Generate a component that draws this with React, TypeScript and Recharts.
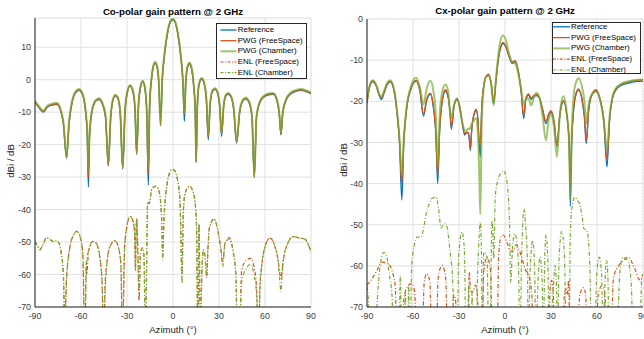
import React from 'react';
import { LineChart, Line, XAxis, YAxis, CartesianGrid } from 'recharts';

const BLUE = '#0072BD';
const RED = '#D95319';
const GREEN = '#77AC30';
const FONT = '"Liberation Sans", Arial, Helvetica, sans-serif';

// ---------- Co-polar: PWG / reference (shared azimuth) ----------
const coAz = [-90, -87.5, -84.6, -82, -78.5, -75.8, -73.5, -71.5, -69.4, -67.8, -66, -63.8, -61.3, -59, -57.2, -55.9, -55.2, -54.4, -52.5, -50.3, -48.2, -46.2, -44, -42.2, -40.6, -39.1, -37.6, -36, -34.4, -32.8, -31.3, -29.8, -28, -26.2, -24.8, -23.7, -22.5, -21.1, -19.8, -18.5, -17.1, -16.1, -15.2, -13.8, -12.5, -11.6, -10.6, -9.4, -8.1, -7.0, -5.5, -3.6, -1.6, -0.2, 1.3, 3.1, 5.0, 6.5, 7.4, 8.4, 9.6, 10.7, 12, 13.5, 14.5, 15.1, 15.8, 17.0, 18.7, 20.3, 21.8, 23.0, 24.3, 25.8, 27.4, 29.0, 30.5, 31.7, 33.0, 34.5, 36.0, 37.8, 39.6, 41.5, 43.5, 45.5, 47.4, 49.5, 51.5, 53.0, 54.5, 57.0, 60.0, 63.0, 65.4, 67.6, 69.3, 70.4, 71.6, 74.0, 77.0, 80.0, 83.8, 87.0, 90.0];
const coRef = [-7.0, -8.6, -10.0, -8.5, -7.8, -7.6, -9.2, -13.5, -24.2, -13.5, -7.5, -4.2, -3.3, -4.6, -9.0, -17, -33, -17, -9.0, -6.6, -6.1, -7.4, -11.5, -26.5, -11.5, -6.3, -5.0, -5.8, -10.5, -27.5, -10, -4.0, -2.0, -3.6, -9.0, -23.0, -8.0, -2.2, -0.7, -2.2, -10, -32.5, -8, 1.0, 4.5, 5.0, 4.3, 0, -12.0, 0, 7.8, 14.3, 17.8, 18.4, 17.7, 14.2, 7.5, -1.0, -12.8, -0.5, 4.0, 4.8, 3.6, -2.0, -9.5, -25.5, -9.5, -1.5, 0.1, -1.2, -6.5, -18.5, -7.2, -3.6, -3.0, -4.1, -8.5, -17.5, -8.5, -5.0, -4.5, -5.3, -9.2, -19.5, -10, -6.6, -5.9, -6.9, -11.5, -30, -11.5, -6.7, -5.1, -4.6, -4.5, -6.2, -10.5, -17.0, -10.2, -6.1, -4.3, -3.6, -3.3, -3.7, -4.3];
const coPwgFree = [-6.8, -8.4, -9.8, -8.3, -7.6, -7.4, -9.0, -13.3, -24.0, -13.3, -7.3, -4.0, -3.1, -4.4, -8.8, -17, -30, -17, -8.8, -6.4, -5.9, -7.2, -11.3, -26.5, -11.3, -6.1, -4.8, -5.6, -10.3, -27.2, -9.8, -3.8, -1.8, -3.4, -8.8, -22.8, -7.8, -2.0, -0.5, -2.0, -9.8, -29, -7.8, 1.2, 4.7, 5.2, 4.5, 0.2, -14.2, 0.2, 8.0, 14.5, 18.0, 18.6, 17.9, 14.4, 7.7, -0.8, -10.5, -0.3, 4.2, 5.0, 3.8, -1.8, -9.3, -25.3, -9.3, -1.3, 0.3, -1.0, -6.3, -17.5, -7.0, -3.4, -2.8, -3.9, -8.3, -16.8, -8.3, -4.8, -4.3, -5.1, -9.0, -19.3, -9.8, -6.4, -5.7, -6.7, -11.3, -30, -11.3, -6.5, -4.9, -4.4, -4.3, -6.0, -10.3, -16.8, -10.0, -5.9, -4.1, -3.4, -3.1, -3.5, -4.1];
const coPwgChamber = [-6.5, -8.1, -9.5, -8.0, -7.3, -7.1, -8.8, -13.0, -23.8, -13.0, -7.0, -3.8, -2.9, -4.2, -8.6, -16.5, -28, -16.5, -8.6, -6.2, -5.7, -7.0, -11.0, -26, -11.0, -5.9, -4.6, -5.4, -10.0, -27, -9.5, -3.6, -1.6, -3.2, -8.5, -22.5, -7.5, -1.8, -0.3, -1.8, -9.5, -27.5, -7.5, 1.4, 4.9, 5.5, 4.7, 0.4, -14.0, 0.4, 8.2, 14.7, 18.2, 18.8, 18.1, 14.6, 7.9, -0.6, -10.3, -0.1, 4.4, 5.3, 4.0, -1.6, -9.0, -25, -9.0, -1.1, 0.5, -0.8, -6.0, -17.0, -6.8, -3.2, -2.6, -3.7, -8.0, -16.4, -8.0, -4.6, -4.1, -4.9, -8.8, -19.0, -9.5, -6.2, -5.5, -6.5, -11.0, -30, -11.0, -6.3, -4.7, -4.2, -4.1, -5.8, -10.0, -16.5, -9.8, -5.7, -3.9, -3.2, -2.9, -3.3, -3.9];

// ---------- Co-polar: ENL (shared azimuth) ----------
const coEnlAz = [-90, -88, -86.7, -85, -82.4, -80, -78, -76, -74.5, -73, -71.5, -70.6, -69.5, -67.2, -65, -62.8, -60.5, -58.8, -57.6, -56.5, -56.3, -55.2, -54, -52.4, -50.2, -47.8, -46.3, -45.2, -44.3, -43, -41.1, -37.8, -35.5, -34, -32.9, -31.6, -30, -28, -26, -25, -24.5, -24, -23.6, -22.9, -22.1, -21.2, -19.8, -18.9, -18.1, -17.3, -16.5, -15.6, -13.9, -11.1, -8.9, -7.4, -6.7, -5.9, -3.7, -1.8, -0.2, 1.5, 2.8, 4.6, 5.9, 6.7, 8, 10.7, 13.3, 14.8, 15.4, 16.2, 17.0, 17.8, 18.8, 19.8, 20.9, 22.0, 22.8, 23.8, 26.7, 29.6, 31.2, 32.4, 33.9, 36.7, 39.4, 41, 42, 43.2, 44.8, 48, 50.7, 52.8, 54.5, 55.7, 56.8, 57.8, 60, 63.3, 66.5, 68.5, 69.5, 70.4, 71.3, 72, 74.6, 78.5, 82.8, 86.1, 88, 90];
const coEnlFree = [-49.8, -51.5, -52.4, -51, -48.8, -49.3, -49.8, -49.6, -50.2, -53, -60, -80, -62, -51.4, -48, -46.7, -48.5, -54, -80, -56, -60, -53.5, -51, -49.8, -50.3, -54.5, -62, -80, -63, -56, -51.4, -49.6, -51.8, -57, -80, -52, -45, -42.1, -43.6, -48, -58.6, -45, -42.8, -53.5, -68, -53.5, -51.8, -54.5, -80, -60, -37.6, -38.2, -33.8, -32.8, -34.8, -43, -54, -43, -31.7, -28.3, -27.6, -28.3, -30.5, -37.9, -60, -41, -34.8, -32.8, -34.8, -40, -46, -80, -44.5, -80, -60, -52.4, -54.5, -61, -52, -45.5, -42.9, -47.3, -52, -56, -50.4, -48.6, -53.5, -60, -80, -80, -58.6, -55.5, -55, -57.6, -64, -80, -63, -57.6, -51.4, -48.8, -51.4, -55.5, -59, -61.2, -58, -55.5, -50.7, -48.3, -48.8, -49.1, -50.5, -53];
const coEnlChamber = [-49.8, -51.5, -52.2, -51, -48.6, -49.3, -49.8, -49.6, -50.2, -53, -60, -72, -62, -51.4, -48, -46.6, -48.5, -54, -80, -58, -55, -53, -51, -49.8, -50.3, -54.5, -62, -80, -66, -56, -51.4, -49.6, -51.8, -57, -80, -52, -45, -42.1, -43.6, -48, -58.6, -45, -42.8, -53.5, -66, -53.5, -51.8, -54.5, -80, -60, -37.6, -38.2, -33.8, -32.8, -34.8, -43, -55.5, -43, -31.7, -28.3, -27.6, -28.3, -30.5, -37.9, -62.8, -41, -34.8, -32.8, -34.8, -40, -46, -80, -44.5, -80, -60, -52.4, -54.5, -59.7, -52, -45.5, -42.9, -47.3, -52, -57.6, -50.4, -49.1, -53.5, -60, -80, -80, -62, -58, -56.8, -60, -66, -80, -63, -57.6, -51.4, -48.8, -51.4, -55.5, -61, -65.3, -59, -55.5, -50.7, -48.3, -48.8, -49.1, -50.5, -53];

// ---------- Cx-polar: PWG / reference (shared azimuth) ----------
const cxAz = [-90, -88.5, -86.3, -84, -82, -80.7, -79, -77, -74.8, -72.5, -70.5, -68.8, -67.3, -66, -64.2, -61.3, -58, -55.5, -53.2, -51, -48.7, -46.7, -45.1, -43.9, -42.6, -41, -38.9, -37, -35.9, -35, -33.2, -31.3, -29.5, -27.6, -26.3, -25.1, -24.1, -23.2, -22.6, -21.7, -19.8, -18.7, -17.7, -16.9, -16.1, -15.2, -13.8, -12.2, -10.6, -9, -7.4, -6, -4.2, -2.8, -1.3, 0.5, 2.5, 4.6, 6.7, 8.5, 10.5, 12.2, 13.6, 15.4, 17.0, 18.7, 20.5, 22.4, 24.6, 26.7, 28.5, 30.2, 32.0, 33.9, 35.6, 37.0, 38.3, 40.3, 41.8, 42.6, 43.5, 44.8, 46.3, 48.0, 50.3, 51.8, 53.0, 54.5, 56.8, 59.4, 62.0, 64.5, 66.5, 68.3, 70.0, 72.0, 76.0, 80.7, 85.0, 90.0];
const cxRef = [-20.5, -16.8, -15.2, -16.3, -18.6, -19.6, -18.2, -16.1, -15.3, -17.3, -22.5, -30, -44, -30, -22, -17, -15.1, -17.5, -23.6, -19.7, -18.3, -21.5, -28, -40, -27, -20.2, -17.5, -19.2, -22.5, -26.8, -21.3, -19.6, -21.6, -26.0, -28.2, -27.7, -27.8, -29.5, -32.0, -27.0, -22.8, -22.2, -24.5, -30, -33.5, -22, -16.2, -14.0, -13.7, -15.8, -20.6, -15.5, -9.5, -6.9, -6.0, -6.8, -9.0, -10.8, -10.4, -12.5, -17.5, -24.2, -19.6, -18.5, -19.5, -18.9, -18.6, -19.2, -22.3, -25.4, -23.3, -22.7, -25.2, -31.0, -24.0, -20.8, -20.1, -23.5, -30, -45.5, -30, -22.0, -18.3, -17.3, -19.8, -24.0, -30.3, -22.5, -18.4, -17.5, -19.6, -25.0, -36.0, -24.0, -19.5, -17.4, -16.1, -15.6, -15.2, -15.1];
const cxPwgFree = [-20.2, -16.6, -15.0, -16.1, -18.4, -19.2, -17.9, -15.9, -15.1, -17.0, -22.2, -29.5, -40, -29.5, -21.8, -16.8, -14.9, -17.3, -23.1, -19.4, -18.0, -21.2, -27.6, -38, -26.8, -20.0, -17.2, -19.0, -22.3, -26.3, -21.0, -19.3, -21.3, -25.7, -27.9, -27.5, -27.5, -29.0, -31.6, -26.8, -22.5, -21.9, -24.2, -29.5, -30.5, -21.8, -16.0, -13.8, -13.4, -15.6, -20.2, -15.2, -9.3, -6.7, -5.7, -6.6, -8.8, -10.5, -10.1, -12.3, -17.3, -23.6, -19.3, -18.2, -19.2, -18.6, -18.3, -19.0, -22.0, -25.0, -23.0, -22.3, -24.8, -30.8, -23.8, -20.6, -19.8, -23.2, -29.5, -40, -29.5, -21.7, -18.1, -17.0, -19.6, -23.6, -29.6, -22.2, -18.2, -17.2, -19.4, -24.7, -34.0, -23.7, -19.3, -17.1, -15.8, -15.3, -14.9, -14.8];
const cxPwgChamber = [-20.0, -16.5, -14.9, -16.0, -18.2, -18.9, -17.6, -15.6, -14.9, -16.8, -22.0, -29, -38, -29, -21.5, -16.3, -14.3, -16.5, -20.8, -16.8, -15.0, -17.5, -23.5, -36, -23.5, -17.8, -15.9, -17.6, -22.5, -24.0, -20.8, -19.3, -21.5, -25.5, -27.0, -27.1, -26.6, -26.8, -26.4, -25.5, -24.4, -24.1, -28.0, -36, -47.5, -26, -16.5, -14.0, -13.8, -16.0, -21.0, -15.0, -8.2, -5.0, -4.0, -5.0, -8.2, -10.5, -10.8, -13.0, -17.0, -20.8, -19.5, -19.3, -21.0, -19.2, -17.9, -19.0, -24.0, -29.5, -24.5, -23.0, -26.5, -33.5, -24.0, -19.8, -18.8, -23.0, -30, -44, -28, -18.5, -15.4, -14.4, -16.6, -20.0, -25.4, -20.8, -18.2, -17.6, -19.6, -25.0, -31.8, -23.3, -19.0, -17.0, -15.7, -15.1, -14.8, -14.7];

// ---------- Cx-polar: ENL (azimuth, dB) ----------
const cxEnlFree: number[][] = [[-90, -64.7], [-86.7, -63.1], [-83.5, -61.1], [-80.2, -59.1], [-78, -59.2], [-75.9, -59.5], [-74, -60.8], [-72.6, -62.7], [-71.5, -65.5], [-70.4, -80], [-67, -80], [-66, -68], [-63.5, -65], [-61.1, -64.3], [-59, -66], [-57.4, -80], [-54.1, -80], [-52.7, -64], [-50.9, -61.9], [-49, -64], [-47.6, -80], [-45, -80], [-43.6, -63], [-41.1, -59.9], [-38.8, -62.5], [-37.2, -80], [-34.5, -80], [-33.5, -67], [-32.2, -68.5], [-31, -80], [-24.5, -80], [-23.3, -61.5], [-22.4, -66], [-21.5, -66.4], [-20.5, -66], [-19.3, -64.7], [-18, -67], [-17, -80], [-15, -80], [-14, -62], [-11.7, -57.9], [-9.5, -61], [-8, -80], [-5.2, -80], [-4.2, -58], [-2.7, -53], [-1.1, -52.5], [0.8, -53.8], [3.3, -56.3], [5, -56.5], [7.2, -54.9], [9.8, -56.7], [13, -60.7], [15.9, -62.9], [17.5, -67], [18.5, -80], [28.3, -80], [29.3, -66], [30.4, -63.5], [31.4, -66], [32.2, -80], [37.6, -80], [38.8, -66.5], [39.8, -65.6], [40.6, -67], [41.5, -63.5], [42.3, -80], [46.7, -80], [48.8, -67], [51.1, -65.3], [52.6, -67], [53.7, -80], [58.7, -80], [61, -66.5], [63.1, -64.9], [65, -66.2], [66.7, -80], [69, -80], [70.7, -63.1], [72.8, -60.7], [75, -59.5], [77.2, -58.7], [80.4, -57.9], [82, -58.6], [83.7, -59.9], [85.5, -61.5], [87, -63.1], [88.5, -63.5], [89.8, -62.3]];
const cxEnlChamber: number[][] = [[-90, -65], [-89.2, -68], [-88.4, -80], [-84.5, -80], [-83.5, -70], [-82, -62], [-80.5, -58], [-79.1, -56.7], [-77, -57.9], [-75.5, -62], [-73.7, -67.2], [-72.6, -80], [-69.2, -80], [-68.3, -62.3], [-67.4, -80], [-65.8, -80], [-65, -66.4], [-64, -80], [-63.5, -80], [-62.8, -64.7], [-62.2, -80], [-61.8, -80], [-61, -62], [-60.7, -59.1], [-58.9, -54.6], [-57.4, -53], [-54.6, -53], [-53, -50.6], [-51.5, -47.5], [-49.8, -45.3], [-47.6, -43.6], [-45, -43.3], [-43.3, -46.2], [-41.7, -50.8], [-40.2, -50], [-39.3, -49.8], [-37.8, -50.6], [-36.5, -54], [-35.7, -57.1], [-34.2, -63], [-32.8, -80], [-31.2, -80], [-30.2, -57.5], [-28, -51.8], [-26.5, -56], [-25.4, -80], [-24.3, -80], [-23.7, -64.7], [-23.1, -80], [-22, -80], [-21.5, -66.4], [-20.8, -80], [-19.5, -80], [-17.5, -58], [-16.1, -49.4], [-15.3, -58], [-14.9, -80], [-14.6, -80], [-13.9, -56.7], [-11.7, -57.9], [-10.6, -80], [-9.8, -80], [-8.5, -49], [-7.9, -52], [-7.4, -58.3], [-6.3, -42.9], [-4.5, -39], [-2.5, -37.3], [-0.9, -36.9], [0.8, -38.5], [2.8, -47.8], [3.7, -64], [5, -55], [6.5, -52.2], [8.7, -59], [9.8, -80], [10.8, -58], [12.4, -46.2], [13.6, -51], [14.6, -59], [15.2, -80], [16.3, -62], [18, -53.8], [19.3, -60], [20.2, -80], [21.5, -64], [22.8, -57.9], [24.2, -63], [25, -80], [25.8, -60], [26.7, -52.5], [27.9, -58], [28.9, -80], [31.4, -66], [32.6, -59.9], [33.6, -65], [34.1, -80], [35.3, -58], [37, -51.6], [38.7, -57], [40.2, -80], [41.8, -80], [42.6, -52], [44, -45], [45.7, -43.3], [47.2, -44], [48.9, -45.3], [50.3, -48], [51.5, -51], [52.6, -51.2], [53.7, -51.8], [55.3, -60], [56.5, -80], [58.5, -80], [59.8, -62], [61.5, -57.9], [63, -62], [64.1, -80], [65, -66], [66.3, -58.7], [67.2, -64], [67.8, -80], [73, -80], [74.5, -64], [75.8, -59], [77.2, -57.9], [79, -58.3], [80.4, -59], [82.3, -64], [83.7, -80], [88, -80], [89.1, -63], [90, -62]];

// ---------- Axes ----------
const xTicks = [-90, -60, -30, 0, 30, 60, 90];
const coYTicks = [-70, -60, -50, -40, -30, -20, -10, 0, 10];
const cxYTicks = [-70, -60, -50, -40, -30, -20, -10, 0];
const seriesNames = ['Reference', 'PWG (FreeSpace)', 'PWG (Chamber)', 'ENL (FreeSpace)', 'ENL (Chamber)'];

const steps = (a: number, b: number, s: number) => {
  const r: number[] = [];
  for (let v = a; v <= b + 1e-9; v += s) r.push(Math.round(v * 100) / 100);
  return r;
};
const xMinor = steps(-90, 90, 5);
const coYMinor = steps(-70, 18, 2);
const cxYMinor = steps(-70, 0, 1);

type Pt = { x: number; y: number };
const zip = (az: number[], v: number[]): Pt[] => az.map((x, i) => ({ x, y: v[i] }));
const fromPairs = (p: number[][]): Pt[] => p.map(([x, y]) => ({ x, y }));

type Style = { color: string; width: number; dash?: string; opacity?: number };
const styles: Style[] = [
  { color: BLUE, width: 1.3 },
  { color: RED, width: 1.3 },
  { color: GREEN, width: 2, opacity: 0.7 },
  { color: RED, width: 1.2, dash: '4 2 1 2' },
  { color: GREEN, width: 1.2, dash: '4 2 1 2' },
];

const coSeries: Pt[][] = [
  zip(coAz, coRef),
  zip(coAz, coPwgFree),
  zip(coAz, coPwgChamber),
  zip(coEnlAz, coEnlFree),
  zip(coEnlAz, coEnlChamber),
];
const cxSeries: Pt[][] = [
  zip(cxAz, cxRef),
  zip(cxAz, cxPwgFree),
  zip(cxAz, cxPwgChamber),
  fromPairs(cxEnlFree),
  fromPairs(cxEnlChamber),
];

const tickStyle = { fill: '#404040', fontSize: 8.8 };

type PanelProps = {
  left: number;
  top: number;
  yWidth: number;
  right: number;
  yDomain: [number, number];
  yTicks: number[];
  yMinor: number[];
  series: Pt[][];
};

function Panel({ left, top, yWidth, right, yDomain, yTicks, yMinor, series }: PanelProps) {
  return (
    <div style={{ position: 'absolute', left, top: 0 }}>
      <LineChart width={322} height={339} margin={{ top, right, bottom: 0, left: 0 }}>
        <CartesianGrid xAxisId="minor" yAxisId="minor" stroke="#e9e9e9" strokeDasharray="1 2" />
        <CartesianGrid stroke="#e0e0e0" />
        <XAxis dataKey="x" type="number" domain={[-90, 90]} ticks={xTicks} interval={0} allowDataOverflow
          tickLine={false} tickSize={0} tickMargin={6} height={32} axisLine={{ stroke: '#262626' }} tick={tickStyle} />
        <YAxis type="number" domain={yDomain} ticks={yTicks} interval={0} allowDataOverflow
          tickLine={false} tickSize={0} tickMargin={4} width={yWidth} axisLine={{ stroke: '#262626' }} tick={tickStyle} />
        <XAxis xAxisId="minor" type="number" domain={[-90, 90]} ticks={xMinor} interval={0} allowDataOverflow
          mirror tick={false} tickSize={2} axisLine={false} height={0} tickLine={{ stroke: '#262626' }} />
        <XAxis xAxisId="major" type="number" domain={[-90, 90]} ticks={xTicks} interval={0} allowDataOverflow
          mirror tick={false} tickSize={3.5} axisLine={false} height={0} tickLine={{ stroke: '#262626' }} />
        <YAxis yAxisId="minor" type="number" domain={yDomain} ticks={yMinor} interval={0} allowDataOverflow
          mirror tick={false} tickSize={2} axisLine={false} width={0} tickLine={{ stroke: '#262626' }} />
        <YAxis yAxisId="major" type="number" domain={yDomain} ticks={yTicks} interval={0} allowDataOverflow
          mirror tick={false} tickSize={3.5} axisLine={false} width={0} tickLine={{ stroke: '#262626' }} />
        {series.map((d, i) => (
          <Line key={seriesNames[i]} name={seriesNames[i]} data={d} dataKey="y" type="monotone"
            stroke={styles[i].color} strokeWidth={styles[i].width} strokeOpacity={styles[i].opacity ?? 1}
            strokeDasharray={styles[i].dash} dot={false} activeDot={false} isAnimationActive={false} />
        ))}
      </LineChart>
    </div>
  );
}

type LegendProps = { x: number; y: number; w: number; h: number; rows: number[]; sx1: number; sx2: number; tx: number };

function LegendBox({ x, y, w, h, rows, sx1, sx2, tx }: LegendProps) {
  return (
    <>
      <div style={{ position: 'absolute', left: x, top: y, width: w, height: h, border: '1px solid #262626', background: '#fff', boxSizing: 'border-box' }} />
      <svg style={{ position: 'absolute', left: 0, top: 0, overflow: 'visible' }} width={1} height={1}>
        {rows.map((ry, i) => (
          <line key={i} x1={sx1} x2={sx2} y1={ry} y2={ry} stroke={styles[i].color}
            strokeWidth={styles[i].width} strokeOpacity={styles[i].opacity ?? 1}
            strokeDasharray={styles[i].dash ? '3 1.5 1 1.5' : undefined} />
        ))}
      </svg>
      {rows.map((ry, i) => (
        <div key={i} style={{ position: 'absolute', left: tx, top: ry, transform: 'translateY(-50%)', fontSize: 7.9, lineHeight: 1, color: '#000', whiteSpace: 'nowrap' }}>
          {seriesNames[i]}
        </div>
      ))}
    </>
  );
}

function Text({ x, y, children, size, bold, rotate }: { x: number; y: number; children: React.ReactNode; size: number; bold?: boolean; rotate?: boolean }) {
  return (
    <div style={{
      position: 'absolute', left: x, top: y, transform: `translate(-50%, -50%)${rotate ? ' rotate(-90deg)' : ''}`,
      fontSize: size, fontWeight: bold ? 'bold' : 'normal', lineHeight: 1, whiteSpace: 'nowrap',
      color: bold ? '#000' : '#262626',
    }}>{children}</div>
  );
}

export default function App() {
  return (
    <div style={{ position: 'absolute', left: 0, top: 0, width: 644, height: 339, background: '#fff', overflow: 'hidden', fontFamily: FONT }}>
      <Panel left={0} top={18} yWidth={35} right={11} yDomain={[-70, 19]} yTicks={coYTicks} yMinor={coYMinor} series={coSeries} />
      <Panel left={322} top={19} yWidth={45} right={1} yDomain={[-70, 0]} yTicks={cxYTicks} yMinor={cxYMinor} series={cxSeries} />
      <Text x={173} y={11.5} size={9.7} bold>Co-polar gain pattern @ 2 GHz</Text>
      <Text x={505} y={11} size={9.7} bold>Cx-polar gain pattern @ 2 GHz</Text>
      <Text x={173} y={329.5} size={9.6}>Azimuth (°)</Text>
      <Text x={505} y={329.5} size={9.6}>Azimuth (°)</Text>
      <Text x={11} y={161} size={9.6} rotate>dBi / dB</Text>
      <Text x={344} y={160} size={9.6} rotate>dBi / dB</Text>
      <LegendBox x={216} y={23} w={90.5} h={55.5} rows={[30, 40.7, 51.3, 62, 72.6]} sx1={220.5} sx2={236.5} tx={237.8} />
      <LegendBox x={551.5} y={22} w={89} h={51.5} rows={[26.8, 37.6, 48.4, 59.2, 70]} sx1={552.7} sx2={570} tx={571} />
    </div>
  );
}
